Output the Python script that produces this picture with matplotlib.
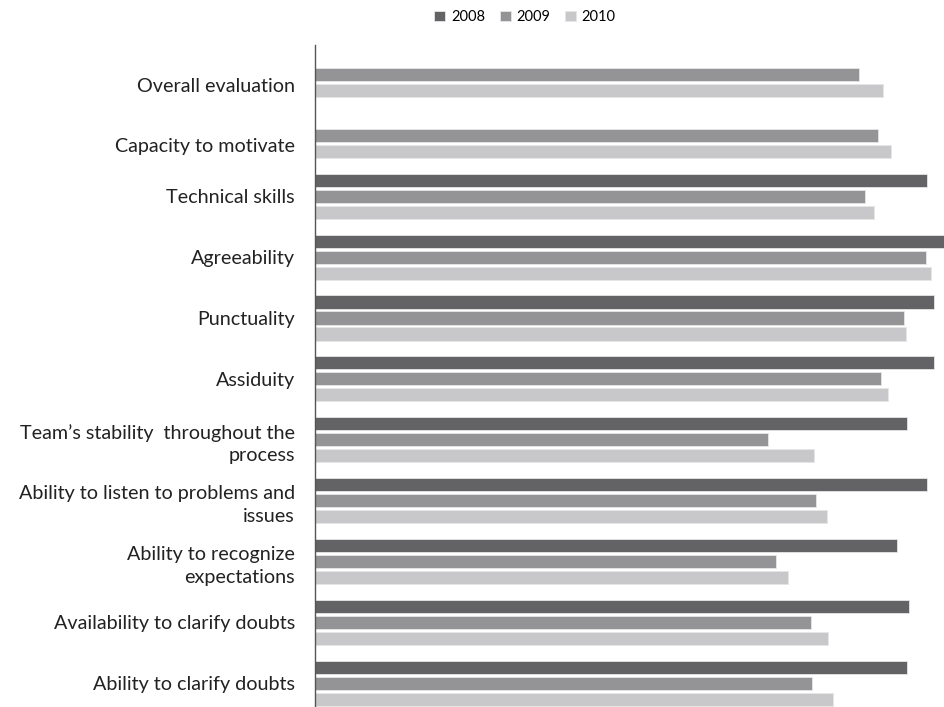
import numpy as np
import matplotlib
matplotlib.use("Agg")
import matplotlib.pyplot as plt
import matplotlib.transforms as mtransforms

plt.rcParams['font.family'] = ['Lato', 'DejaVu Sans']

categories = [
    "Overall evaluation",
    "Capacity to motivate",
    "Technical skills",
    "Agreeability",
    "Punctuality",
    "Assiduity",
    "Team\u2019s stability  throughout the\nprocess",
    "Ability to listen to problems and\nissues",
    "Ability to recognize\nexpectations",
    "Availability to clarify doubts",
    "Ability to clarify doubts",
]
years = ["2008", "2009", "2010"]
v2008 = [np.nan, np.nan, 97.1, 100.0, 98.3, 98.3, 94.0, 97.1, 92.4, 94.3, 94.0]
v2009 = [86.3, 89.4, 87.3, 97.0, 93.5, 89.8, 71.9, 79.5, 73.2, 78.7, 78.9]
v2010 = [90.2, 91.4, 88.7, 97.8, 93.8, 91.0, 79.2, 81.3, 75.1, 81.4, 82.2]

colors = ["#636365", "#949497", "#c8c8ca"]

fig = plt.figure(figsize=(9.45, 7.07), dpi=100)
ax = fig.add_axes([315 / 945, 0.0, 1 - 315 / 945, 1 - 45 / 707])

y = np.arange(len(categories))
pitch = 0.263
for i, (vals, c, lab) in enumerate(zip([v2008, v2009, v2010], colors, years)):
    ax.barh(y + (i - 1) * pitch, vals, height=0.215, color=c, label=lab,
            edgecolor="#e6e6e6", linewidth=0.6)

ax.set_xlim(0, 100)
ax.set_ylim(10.39, -0.485)
ax.set_yticks(y)
ax.set_yticklabels(categories, fontsize=14.2, color="#222222", linespacing=1.4)
ax.tick_params(axis='y', length=0, pad=14.4)
ax.set_xticks([])
for s in ["top", "right", "bottom"]:
    ax.spines[s].set_visible(False)
ax.spines["left"].set_color("#555555")
ax.spines["left"].set_linewidth(1.0)

# the first two labels sit a bit lower in the original
shift = mtransforms.ScaledTranslation(0, -10 / 100, fig.dpi_scale_trans)
for lbl in ax.get_yticklabels()[:2]:
    lbl.set_transform(lbl.get_transform() + shift)

fig.legend(loc="center", bbox_to_anchor=(525 / 945, 1 - 17 / 707), ncol=3,
           frameon=False, fontsize=10.5, handlelength=0.75, handleheight=0.75,
           handletextpad=0.4, columnspacing=1.0)

plt.savefig("out.png", dpi=100)
